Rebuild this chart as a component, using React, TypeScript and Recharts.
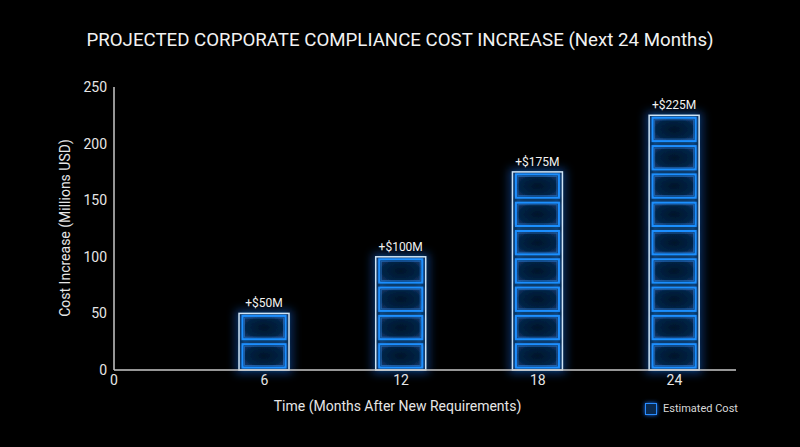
import React from "react";
import { BarChart, Bar, XAxis, YAxis, LabelList } from "recharts";

const months = [6, 12, 18, 24];
const costs = [50, 100, 175, 225];
const costLabels = ["+$50M", "+$100M", "+$175M", "+$225M"];
const xTicks = [-0.6, 6, 12, 18, 24];
const yTicks = [0, 50, 100, 150, 200, 250];
const blockSize = 25;

const data = months.map((m, i) => ({ month: m, cost: costs[i], label: costLabels[i] }));

const FONT = "Roboto, 'Noto Sans', sans-serif";

const StackedBlockBar = (props: any) => {
  const { x, y, width, height, value } = props;
  const n = Math.max(1, Math.round(value / blockSize));
  const bh = height / n;
  const blocks = [];
  for (let i = 0; i < n; i++) {
    const by = y + i * bh;
    blocks.push(
      <g key={i}>
        <rect x={x + 3.5} y={by + 2.5} width={width - 7} height={bh - 5} fill="url(#blockFill)" stroke="#1f8fff" strokeWidth={2} filter="url(#glowSoft)" />
        <rect x={x + 5.5} y={by + 4.5} width={width - 11} height={bh - 9} fill="none" stroke="#2f7fd8" strokeWidth={1} opacity={0.6} />
      </g>
    );
  }
  return (
    <g>
      <rect x={x} y={y} width={width} height={height} fill="none" stroke="#1a78ff" strokeWidth={6} opacity={0.5} filter="url(#glowBig)" />
      {blocks}
      <rect x={x} y={y} width={width} height={height} fill="none" stroke="#cfe4f5" strokeWidth={1.5} />
    </g>
  );
};

export default function App() {
  return (
    <div style={{ position: "absolute", left: 0, top: 0, width: 800, height: 447, background: "#000", fontFamily: FONT, overflow: "hidden" }}>
      <svg width={0} height={0} style={{ position: "absolute" }}>
        <defs>
          <radialGradient id="blockFill" cx="0.5" cy="0.5" r="0.7">
            <stop offset="0%" stopColor="#03152a" />
            <stop offset="60%" stopColor="#052346" />
            <stop offset="100%" stopColor="#0d4480" />
          </radialGradient>
          <filter id="glowSoft" x="-50%" y="-50%" width="200%" height="200%">
            <feGaussianBlur stdDeviation="2.5" result="b" />
            <feMerge>
              <feMergeNode in="b" />
              <feMergeNode in="SourceGraphic" />
            </feMerge>
          </filter>
          <filter id="glowBig" x="-50%" y="-50%" width="200%" height="200%">
            <feGaussianBlur stdDeviation="5" />
          </filter>
        </defs>
      </svg>
      <div style={{ position: "absolute", left: 0, top: 29, width: 800, textAlign: "center", color: "#f2f2f2", fontSize: 18.7, letterSpacing: 0 }}>
        PROJECTED CORPORATE COMPLIANCE COST INCREASE (Next 24 Months)
      </div>
      <div style={{ position: "absolute", left: 0, top: 0 }}>
        <BarChart width={800} height={447} data={data} margin={{ top: 87, right: 64, bottom: 47, left: 54 }}>
          <XAxis
            dataKey="month"
            type="number"
            domain={[-0.6, 26.7]}
            ticks={xTicks}
            tickFormatter={(v: number) => (v < 0 ? "0" : String(v))}
            axisLine={{ stroke: "#c8c8c8", strokeWidth: 1.5 }}
            tickLine={false}
            tickSize={0}
            tickMargin={5}
            height={30}
            tick={{ fill: "#e6e6e6", fontSize: 14, fontFamily: FONT }}
            allowDataOverflow
          />
          <YAxis
            type="number"
            domain={[0, 250]}
            ticks={yTicks}
            axisLine={{ stroke: "#c8c8c8", strokeWidth: 1.5 }}
            tickLine={false}
            tickSize={0}
            tickMargin={7}
            width={60}
            tick={{ fill: "#e6e6e6", fontSize: 14, fontFamily: FONT }}
          />
          <Bar dataKey="cost" barSize={50} isAnimationActive={false} shape={<StackedBlockBar />}>
            <LabelList dataKey="label" position="top" offset={6} fill="#f2f2f2" fontSize={12} fontFamily={FONT} />
          </Bar>
        </BarChart>
      </div>
      <div style={{ position: "absolute", left: 0, top: 398, width: 795, textAlign: "center", color: "#e6e6e6", fontSize: 14 }}>
        Time (Months After New Requirements)
      </div>
      <div style={{ position: "absolute", left: 65, top: 228, color: "#e6e6e6", fontSize: 14, whiteSpace: "nowrap", transform: "translate(-50%, -50%) rotate(-90deg)" }}>
        Cost Increase (Millions USD)
      </div>
      <div style={{ position: "absolute", left: 645, top: 402, display: "flex", alignItems: "center" }}>
        <div style={{ width: 10, height: 10, border: "1.5px solid #2a8cff", background: "#0a2a50", boxShadow: "0 0 4px #1a78ff" }} />
        <span style={{ marginLeft: 6, color: "#d8d8d8", fontSize: 11 }}>Estimated Cost</span>
      </div>
    </div>
  );
}
